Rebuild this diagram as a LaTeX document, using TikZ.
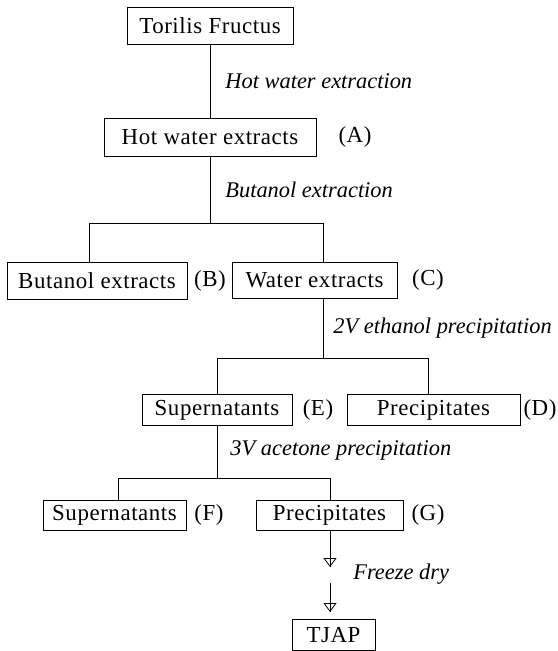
\documentclass[tikz,border=0pt]{standalone}
\usepackage{fontspec}
\setmainfont{Liberation Serif}[LetterSpace=2.5]
\newfontfamily\labfont{Liberation Serif}
\usetikzlibrary{arrows.meta}
\begin{document}
\begin{tikzpicture}[x=1bp,y=-1bp,
  every path/.style={line width=0.8bp},
  box/.style={draw, line width=0.8bp, inner sep=0pt, font=\fontsize{23}{27}\selectfont},
  tag/.style={inner sep=0pt, font=\fontsize{23}{27}\selectfont},
  lab/.style={inner sep=0pt, anchor=west, font=\labfont\fontsize{22.5}{27}\selectfont\itshape},
  tip/.style={-{Triangle[open,length=9bp,width=13bp,line width=0.8bp]}}]
\useasboundingbox (0,0) rectangle (558,651);
% boxes
\node[box, minimum width=166bp, minimum height=37bp] (tf) at (210,25.5) {Torilis Fructus};
\node[box, minimum width=212bp, minimum height=38bp] (hw) at (210,137) {Hot water extracts};
\node[tag] (A) at (355,137) {(A)};
\node[box, minimum width=180bp, minimum height=37bp] (bu) at (97,280.5) {Butanol extracts};
\node[tag] (B) at (210,280.5) {(B)};
\node[box, minimum width=165bp, minimum height=36bp] (we) at (314.5,280) {Water extracts};
\node[tag] (C) at (428,280) {(C)};
\node[box, minimum width=150bp, minimum height=31bp] (se) at (217,410) {Supernatants};
\node[tag] (E) at (318,410) {(E)};
\node[box, minimum width=173bp, minimum height=31bp] (pd) at (433.5,410) {Precipitates};
\node[tag] (D) at (540,410) {(D)};
\node[box, minimum width=143bp, minimum height=30bp] (sf) at (114.5,515) {Supernatants};
\node[tag] (F) at (209,515) {(F)};
\node[box, minimum width=147bp, minimum height=30bp] (pg) at (329.5,515) {Precipitates};
\node[tag] (G) at (428,515) {(G)};
\node[box, minimum width=83bp, minimum height=31bp] (tj) at (333.5,635) {TJAP};
% labels
\node[lab] (l1) at (225,81) {Hot water extraction};
\node[lab] (l2) at (225,190) {Butanol extraction};
\node[lab] (l3) at (333,328) {2V ethanol precipitation};
\node[lab] (l4) at (230,450) {3V acetone precipitation};
\node[lab] (l5) at (353,574) {Freeze dry};
% connectors
\draw (tf) -- (hw);
\coordinate (b1) at (210,223);
\coordinate (b1l) at (89,223);
\coordinate (b1r) at (323,223);
\draw (hw) -- (b1);
\draw (b1l) -- (b1r);
\draw (b1l) -- (b1l |- bu.north);
\draw (b1r) -- (b1r |- we.north);
\coordinate (b2) at (323,358);
\coordinate (b2l) at (217,358);
\coordinate (b2r) at (428,358);
\draw (b2 |- we.south) -- (b2);
\draw (b2l) -- (b2r);
\draw (b2l) -- (se.north);
\draw (b2r) -- (b2r |- pd.north);
\coordinate (b3) at (217,478);
\coordinate (b3l) at (118,478);
\coordinate (b3r) at (330,478);
\draw (se) -- (b3);
\draw (b3l) -- (b3r);
\draw (b3l) -- (b3l |- sf.north);
\draw (b3r) -- (b3r |- pg.north);
\coordinate (a1s) at (330,530);
\coordinate (a1e) at (330,567);
\coordinate (a2s) at (330,583);
\coordinate (a2e) at (330,612);
\draw (a1s) -- (a1e);
\draw[tip] (a1s) -- (a1e);
\draw (a2s) -- (a2e);
\draw[tip] (a2s) -- (a2e);
\end{tikzpicture}
\end{document}
